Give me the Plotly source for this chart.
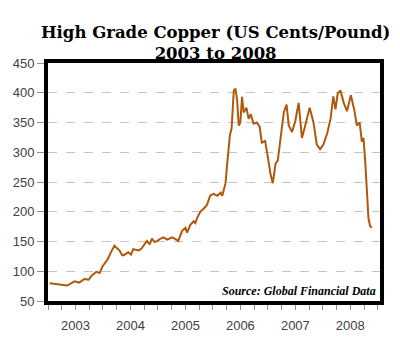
import plotly.graph_objects as go

# Fractional year and price (US cents / pound)
years = [2003.03, 2003.14, 2003.23, 2003.35, 2003.41, 2003.48, 2003.57, 2003.66, 2003.74, 2003.79,
         2003.88, 2003.94, 2003.99, 2004.08, 2004.15, 2004.21, 2004.26, 2004.30, 2004.35, 2004.38,
         2004.46, 2004.51, 2004.55, 2004.65, 2004.70, 2004.74, 2004.80, 2004.85, 2004.89, 2004.94,
         2004.99, 2005.05, 2005.10, 2005.17, 2005.26, 2005.32, 2005.37, 2005.44, 2005.50, 2005.53,
         2005.59, 2005.65, 2005.68, 2005.71, 2005.77, 2005.83, 2005.89, 2005.95, 2006.01, 2006.08,
         2006.14, 2006.17, 2006.23, 2006.26, 2006.31, 2006.34, 2006.38, 2006.41, 2006.44, 2006.47,
         2006.50, 2006.53, 2006.56, 2006.61, 2006.65, 2006.69, 2006.74, 2006.80, 2006.85, 2006.89,
         2006.95, 2007.01, 2007.05, 2007.09, 2007.14, 2007.18, 2007.23, 2007.29, 2007.34, 2007.38,
         2007.44, 2007.50, 2007.56, 2007.62, 2007.68, 2007.76, 2007.83, 2007.89, 2007.95, 2008.01,
         2008.08, 2008.14, 2008.19, 2008.23, 2008.27, 2008.32, 2008.38, 2008.44, 2008.51, 2008.57,
         2008.62, 2008.67, 2008.71, 2008.74, 2008.77, 2008.80, 2008.83, 2008.86, 2008.89]
prices = [80, 79, 78, 76, 79, 83, 81, 87, 86, 92,
          99, 97, 108, 119, 133, 143, 138, 135, 127, 127,
          132, 128, 137, 135, 138, 143, 151, 145, 155, 149,
          151, 155, 157, 153, 157, 154, 151, 168, 173, 165,
          178, 184, 181, 189, 200, 205, 211, 227, 230, 227,
          232, 227, 248, 281, 329, 340, 404, 407, 388, 345,
          350, 393, 367, 375, 356, 364, 348, 350, 343, 316,
          319, 286, 262, 248, 281, 286, 320, 367, 380, 345,
          334, 353, 383, 324, 345, 375, 350, 313, 305, 313,
          332, 356, 394, 372, 399, 404, 383, 369, 396, 372,
          345, 350, 318, 324, 286, 232, 189, 176, 173]

year_ticks = [2003.5, 2004.5, 2005.5, 2006.5, 2007.5, 2008.5]
year_labels = ["2003", "2004", "2005", "2006", "2007", "2008"]
y_ticks = [50, 100, 150, 200, 250, 300, 350, 400, 450]

fig = go.Figure()
fig.add_trace(go.Scatter(x=years, y=prices, mode="lines",
                         line=dict(color="#b0580c", width=2), hoverinfo="skip"))

fig.update_layout(
    width=400, height=345,
    margin=dict(l=48, r=20, t=63, b=32),
    paper_bgcolor="white", plot_bgcolor="white",
    showlegend=False,
    font=dict(family="Liberation Sans, Arial", size=13, color="#404040"),
)
fig.update_xaxes(
    range=[2003.0, 2009.04], tickvals=year_ticks, ticktext=year_labels,
    ticks="outside", ticklen=5, tickcolor="#909090", ticklabelstandoff=4,
    minor=dict(tick0=2003, dtick=0.25, ticks="outside", ticklen=5, tickcolor="#909090"),
    showgrid=False, zeroline=False,
    showline=True, linecolor="black", linewidth=4, mirror=True,
    tickfont=dict(size=13, color="#404040"),
)
fig.update_yaxes(
    range=[50, 450], tickvals=y_ticks,
    ticks="outside", ticklen=7, tickcolor="#909090",
    showgrid=True, gridcolor="#c4c4c4", griddash="dash", gridwidth=1,
    zeroline=False,
    showline=True, linecolor="black", linewidth=4, mirror=True,
    tickfont=dict(size=13, color="#404040"),
)

fig.add_annotation(text="<b>High Grade Copper (US Cents/Pound)<br>2003 to 2008</b>",
                   xref="paper", yref="paper",
                   x=0.505, y=1.086, xanchor="center", yanchor="middle", showarrow=False,
                   font=dict(family="DejaVu Serif", size=16.5, color="black"))
fig.add_annotation(text="<b><i>Source: Global Financial Data</i></b>", xref="paper", yref="paper",
                   x=0.995, y=0.04, xanchor="right", yanchor="middle", showarrow=False,
                   font=dict(family="Liberation Serif", size=12, color="black"))

fig.write_html("out.html")
